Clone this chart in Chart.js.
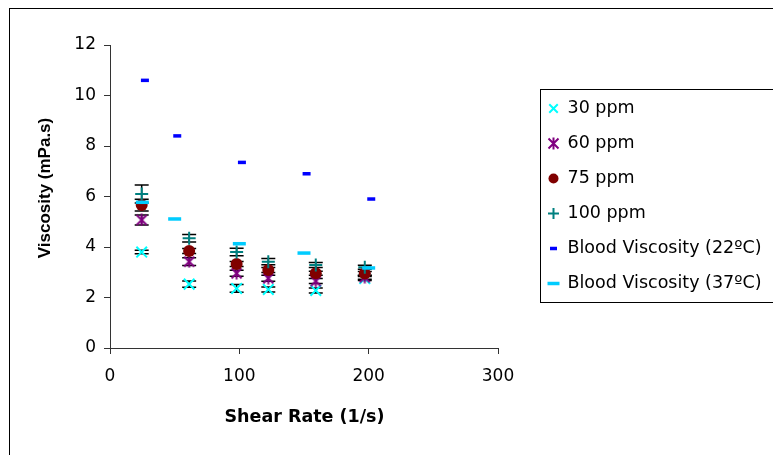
<!DOCTYPE html>
<html>
<head>
<meta charset="utf-8">
<script src="https://cdn.jsdelivr.net/npm/chart.js@4"></script>
<style>
  html, body { margin: 0; padding: 0; background: #fff; }
  #wrap { width: 773px; height: 455px; }
</style>
</head>
<body>
<div id="wrap"><canvas id="chart-viscosity" width="773" height="455"></canvas></div>
<script>
/*  DATA  */
// shear rates of the measurements (1/s)
const shearRates = [24.5, 61.2, 97.9, 122.4, 159.1, 197];

const ppm30 = [3.8, 2.53, 2.36, 2.32, 2.28, 2.75];
const ppm60 = [5.07, 3.42, 2.96, 2.76, 2.65, 2.8];
const ppm75 = [5.66, 3.84, 3.33, 3.09, 2.96, 2.95];
const ppm100 = [6.1, 4.35, 3.8, 3.42, 3.29, 3.2];

// error bar half-lengths
const err30 = [0.07, 0.12, 0.15, 0.1, 0.1, 0.08];
const err60 = [0.2, 0.15, 0.12, 0.12, 0.1, 0.08];
const err75 = [0.23, 0.1, 0.1, 0.1, 0.08, 0.08];
const err100 = [0.36, 0.15, 0.15, 0.12, 0.1, 0.08];

// blood reference
const blood22Rates = [27, 52, 102, 152, 202];
const blood22 = [10.6, 8.4, 7.35, 6.9, 5.9];
const blood37Rates = [25, 50, 100, 150, 200];
const blood37 = [5.77, 5.11, 4.13, 3.76, 3.17];

const xTicks = [0, 100, 200, 300];
const yTicks = [0, 2, 4, 6, 8, 10, 12];

const labels = ["30 ppm", "60 ppm", "75 ppm", "100 ppm", "Blood Viscosity (22ºC)", "Blood Viscosity (37ºC)"];
/*  END DATA  */

const pts = (xs, ys) => ys.map((y, i) => ({ x: xs[i], y: y }));

// asterisk marker (X + vertical bar), as in the spreadsheet
function asterisk(size, color) {
  const c = document.createElement("canvas");
  c.width = size; c.height = size;
  const g = c.getContext("2d");
  g.strokeStyle = color;
  g.lineWidth = 2;
  const m = 1.5, s = size - 1.5;
  g.beginPath();
  g.moveTo(m, m); g.lineTo(s, s);
  g.moveTo(s, m); g.lineTo(m, s);
  g.moveTo(size / 2, m - 1); g.lineTo(size / 2, s + 1);
  g.stroke();
  return c;
}
const starImg = asterisk(13, "#800080");

const base = { showLine: false, pointHoverRadius: 0 };

const datasets = [
  { ...base, label: labels[0], data: pts(shearRates, ppm30), errors: err30, order: 6,
    pointStyle: "crossRot", pointRadius: 7.5, borderColor: "#00FFFF", backgroundColor: "#00FFFF", pointBorderWidth: 2 },
  { ...base, label: labels[1], data: pts(shearRates, ppm60), errors: err60, order: 5,
    pointStyle: starImg, pointRadius: 6, borderColor: "#800080", backgroundColor: "#800080" },
  { ...base, label: labels[2], data: pts(shearRates, ppm75), errors: err75, order: 4,
    pointStyle: "circle", pointRadius: 6, borderColor: "#800000", backgroundColor: "#800000", pointBorderWidth: 0 },
  { ...base, label: labels[3], data: pts(shearRates, ppm100), errors: err100, order: 3,
    pointStyle: "cross", pointRadius: 6.5, borderColor: "#008080", backgroundColor: "#008080", pointBorderWidth: 2 },
  { ...base, label: labels[4], data: pts(blood22Rates, blood22), order: 2,
    pointStyle: "line", pointRadius: 4, borderColor: "#0000FF", backgroundColor: "#0000FF", pointBorderWidth: 3.5 },
  { ...base, label: labels[5], data: pts(blood37Rates, blood37), order: 1,
    pointStyle: "line", pointRadius: 6.5, borderColor: "#00CCFF", backgroundColor: "#00CCFF", pointBorderWidth: 3.5 },
];

// legend marker sizes
const legendRadius = [6, 6, 5, 5.5, 3.5, 6];

const axisColor = "#333";
const tickFont = { family: "'DejaVu Sans'", size: 17 };

new Chart(document.getElementById("chart-viscosity"), {
  type: "scatter",
  data: { datasets },
  options: {
    responsive: false,
    animation: false,
    events: [],
    layout: { padding: { left: 0, top: 45, right: 275, bottom: 0 } },
    plugins: { legend: { display: false }, tooltip: { enabled: false } },
    scales: {
      x: {
        type: "linear", min: 0, max: 300,
        afterFit: (s) => { s.height = 107; },
        afterBuildTicks: (s) => { s.ticks = xTicks.map((v) => ({ value: v })); },
        grid: { drawOnChartArea: false, tickLength: 6, color: axisColor },
        border: { color: axisColor },
        ticks: { color: "#000", font: tickFont, padding: 12, maxRotation: 0 },
      },
      y: {
        type: "linear", min: 0, max: 12,
        afterFit: (s) => { s.width = 110; },
        afterBuildTicks: (s) => { s.ticks = yTicks.map((v) => ({ value: v })); },
        grid: { drawOnChartArea: false, tickLength: 6, color: axisColor },
        border: { color: axisColor },
        ticks: { color: "#000", font: tickFont, padding: 8 },
      },
    },
  },
  plugins: [
    {
      // outer frame + axis titles
      id: "frameTitles",
      afterDraw(chart) {
        const { ctx } = chart;
        ctx.save();
        ctx.strokeStyle = "#000";
        ctx.lineWidth = 1;
        ctx.strokeRect(9.5, 8.5, 900, 600);

        ctx.fillStyle = "#000";
        ctx.textAlign = "center";
        ctx.textBaseline = "middle";
        ctx.font = "bold 17.5px 'DejaVu Sans'";
        ctx.fillText("Shear Rate (1/s)", 304.5, 417);

        ctx.translate(45, 188);
        ctx.rotate(-Math.PI / 2);
        ctx.font = "bold 17px 'Liberation Sans'";
        ctx.fillText("Viscosity (mPa.s)", 0, 0);
        ctx.restore();
      },
    },
    {
      // black error bars under the markers
      id: "errorBars",
      beforeDatasetsDraw(chart) {
        const { ctx, scales: { x, y } } = chart;
        ctx.save();
        ctx.strokeStyle = "#000";
        ctx.lineWidth = 1.5;
        chart.data.datasets.forEach((ds) => {
          if (!ds.errors) return;
          ds.data.forEach((p, i) => {
            const px = x.getPixelForValue(p.x);
            const top = y.getPixelForValue(p.y + ds.errors[i]);
            const bot = y.getPixelForValue(p.y - ds.errors[i]);
            ctx.beginPath();
            ctx.moveTo(px, top); ctx.lineTo(px, bot);
            ctx.moveTo(px - 7, top); ctx.lineTo(px + 7, top);
            ctx.moveTo(px - 7, bot); ctx.lineTo(px + 7, bot);
            ctx.stroke();
          });
        });
        ctx.restore();
      },
    },
    {
      // legend box on the right, cut by the canvas edge
      id: "boxLegend",
      afterDraw(chart) {
        const { ctx } = chart;
        ctx.save();
        ctx.strokeStyle = "#000";
        ctx.lineWidth = 1;
        ctx.strokeRect(540.5, 89.5, 400, 213);
        ctx.font = "17.5px 'DejaVu Sans'";
        ctx.textAlign = "left";
        ctx.textBaseline = "middle";
        chart.data.datasets.forEach((ds, i) => {
          const yy = 108.5 + i * 35;
          const bw = ds.pointBorderWidth ?? 1;
          ctx.strokeStyle = ds.borderColor;
          ctx.fillStyle = ds.backgroundColor;
          ctx.lineWidth = bw;
          Chart.helpers.drawPoint(ctx, {
            pointStyle: ds.pointStyle,
            radius: legendRadius[i],
            borderWidth: bw,
            rotation: 0,
          }, 553.5, yy);
          ctx.fillStyle = "#000";
          ctx.fillText(ds.label, 567.5, yy);
        });
        ctx.restore();
      },
    },
  ],
});
</script>
</body>
</html>
